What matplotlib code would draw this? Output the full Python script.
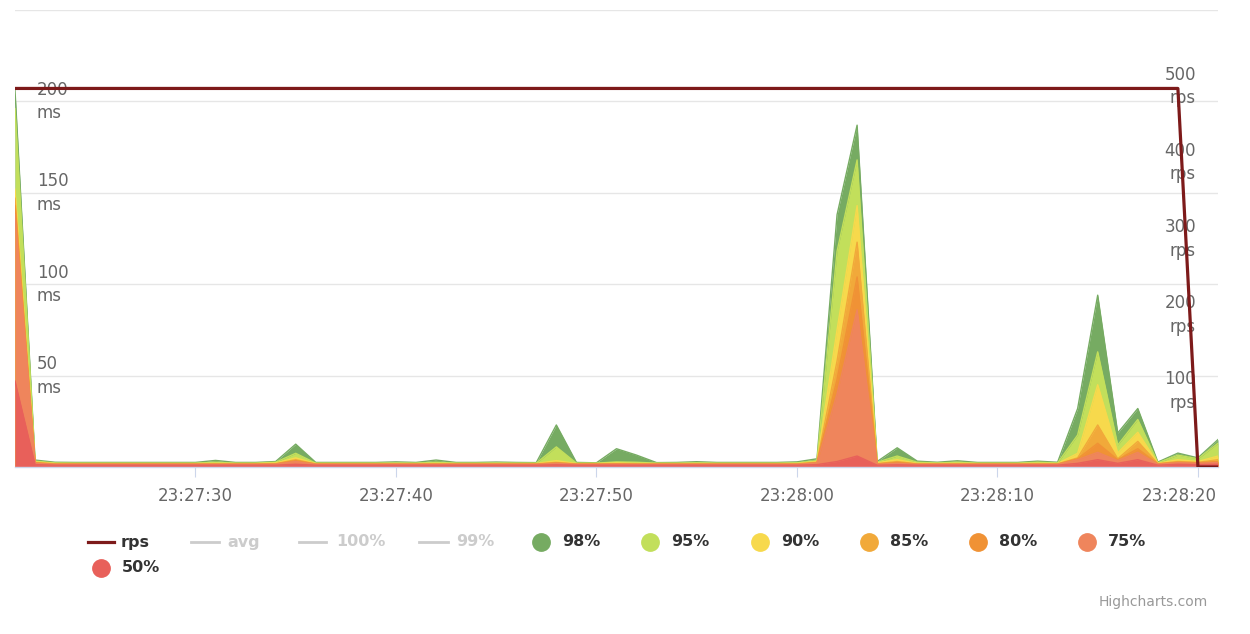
import pandas as pd
import matplotlib
matplotlib.use('Agg')
import matplotlib.pyplot as plt
from matplotlib.lines import Line2D
from matplotlib.transforms import ScaledTranslation

plt.rcParams['font.family'] = ['DejaVu Sans']

# one sample per second, 23:27:21 .. 23:28:21
times = pd.date_range('2020-01-01 23:27:21', periods=61, freq='s')

# response time percentiles, ms
p98 = [206, 3.8, 2.6, 2.5, 2.5, 2.5, 2.5, 2.5, 2.5, 2.5,
       3.6, 2.5, 2.5, 3.0, 12.5, 2.5, 2.5, 2.5, 2.5, 2.8,
       2.5, 3.8, 2.5, 2.5, 2.7, 2.5, 2.4, 23, 2.5, 2.3,
       10, 6.5, 2.4, 2.5, 2.9, 2.5, 2.5, 2.5, 2.5, 2.8,
       4.5, 138, 187, 3.0, 10.5, 3.2, 2.6, 3.4, 2.5, 2.5,
       2.5, 3.2, 2.6, 32, 94, 18.6, 32, 2.7, 7.6, 5.0,
       15]
p95 = [196, 3.2, 2.2, 2.1, 2.1, 2.1, 2.1, 2.1, 2.1, 2.1,
       2.6, 2.1, 2.1, 2.6, 7.5, 2.1, 2.1, 2.1, 2.1, 2.2,
       2.1, 2.6, 2.1, 2.1, 2.2, 2.1, 2.1, 11, 2.1, 2.1,
       2.8, 2.6, 2.1, 2.1, 2.3, 2.1, 2.1, 2.1, 2.1, 2.3,
       3.5, 118, 168, 2.6, 6.0, 2.6, 2.2, 2.6, 2.1, 2.1,
       2.1, 2.6, 2.2, 17.5, 63, 12, 26, 2.3, 6.5, 4.5,
       13]
p90 = [152, 2.8, 1.9, 1.9, 1.9, 1.9, 1.9, 1.9, 1.9, 1.9,
       2.0, 1.9, 1.9, 2.2, 5.0, 1.9, 1.9, 1.9, 1.9, 1.9,
       1.9, 2.0, 1.9, 1.9, 1.9, 1.9, 1.9, 3.5, 1.9, 1.9,
       2.3, 2.0, 1.9, 1.9, 1.9, 1.9, 1.9, 1.9, 1.9, 1.9,
       3.0, 75, 143, 2.3, 4.0, 2.0, 1.9, 2.0, 1.9, 1.9,
       1.9, 2.0, 1.9, 7.5, 45, 7.7, 19, 2.0, 4.0, 3.0,
       6.0]
p85 = [147, 2.5, 1.7, 1.7, 1.7, 1.7, 1.7, 1.7, 1.7, 1.7,
       1.7, 1.7, 1.7, 1.8, 4.0, 1.7, 1.7, 1.7, 1.7, 1.7,
       1.7, 1.7, 1.7, 1.7, 1.7, 1.7, 1.7, 2.5, 1.7, 1.7,
       1.8, 1.7, 1.7, 1.7, 1.7, 1.7, 1.7, 1.7, 1.7, 1.7,
       2.6, 58, 123, 1.8, 3.0, 1.7, 1.7, 1.7, 1.7, 1.7,
       1.7, 1.7, 1.7, 5.0, 23, 4.5, 14, 1.8, 3.0, 2.5,
       4.0]
p80 = [143, 2.3, 1.6, 1.6, 1.6, 1.6, 1.6, 1.6, 1.6, 1.6,
       1.6, 1.6, 1.6, 1.7, 3.5, 1.6, 1.6, 1.6, 1.6, 1.6,
       1.6, 1.6, 1.6, 1.6, 1.6, 1.6, 1.6, 2.2, 1.6, 1.6,
       1.7, 1.6, 1.6, 1.6, 1.6, 1.6, 1.6, 1.6, 1.6, 1.6,
       2.4, 48, 104, 1.7, 2.5, 1.6, 1.6, 1.6, 1.6, 1.6,
       1.6, 1.6, 1.6, 4.5, 13, 4.0, 10, 1.7, 2.6, 2.3,
       3.0]
p75 = [138, 2.0, 1.4, 1.4, 1.4, 1.4, 1.4, 1.4, 1.4, 1.4,
       1.4, 1.4, 1.4, 1.5, 3.0, 1.4, 1.4, 1.4, 1.4, 1.4,
       1.4, 1.4, 1.4, 1.4, 1.4, 1.4, 1.4, 2.0, 1.4, 1.4,
       1.5, 1.4, 1.4, 1.4, 1.4, 1.4, 1.4, 1.4, 1.4, 1.4,
       2.2, 40, 86, 1.5, 2.0, 1.4, 1.4, 1.4, 1.4, 1.4,
       1.4, 1.4, 1.4, 4.0, 8.0, 3.5, 8.0, 1.5, 2.3, 2.0,
       2.5]
p50 = [47, 1.3, 1.0, 1.0, 1.0, 1.0, 1.0, 1.0, 1.0, 1.0,
       1.0, 1.0, 1.0, 1.0, 1.5, 1.0, 1.0, 1.0, 1.0, 1.0,
       1.0, 1.0, 1.0, 1.0, 1.0, 1.0, 1.0, 1.2, 1.0, 1.0,
       1.0, 1.0, 1.0, 1.0, 1.0, 1.0, 1.0, 1.0, 1.0, 1.0,
       1.3, 3.0, 6.0, 1.0, 1.2, 1.0, 1.0, 1.0, 1.0, 1.0,
       1.0, 1.0, 1.0, 2.0, 4.0, 2.0, 4.0, 1.0, 1.5, 1.3,
       1.5]

# requests per second
rps = [497, 497, 497, 497, 497, 497, 497, 497, 497, 497,
       497, 497, 497, 497, 497, 497, 497, 497, 497, 497,
       497, 497, 497, 497, 497, 497, 497, 497, 497, 497,
       497, 497, 497, 497, 497, 497, 497, 497, 497, 497,
       497, 497, 497, 497, 497, 497, 497, 497, 497, 497,
       497, 497, 497, 497, 497, 497, 497, 497, 497, 0,
       0]

area_names = ['98%', '95%', '90%', '85%', '80%', '75%', '50%']
area_values = [p98, p95, p90, p85, p80, p75, p50]
area_colors = ['#76ab62', '#c2df5b', '#f7d94c', '#f1a93a', '#f09235', '#ef855c', '#e8605a']
hidden_names = ['avg', '100%', '99%']
rps_color = '#7d1a1a'

ms_ticks = [0, 50, 100, 150, 200, 250]
rps_ticks = [0, 100, 200, 300, 400, 500, 600]

W, H = 1250, 634


def fx(px):
    return px / W


def fy(py):
    return 1 - py / H


fig = plt.figure(figsize=(W / 100, H / 100), dpi=100)
ax = fig.add_axes([fx(15), fy(467), 1203 / W, 457 / H])
label_shift = ScaledTranslation(0, 0.045, fig.dpi_scale_trans)

# percentile areas, widest drawn first
for i, (vals, col) in enumerate(zip(area_values, area_colors)):
    ax.fill_between(times, 0, vals, color=col, lw=0, zorder=1 + i * 0.1)
    ax.plot(times, vals, color=col, lw=1, zorder=1.05 + i * 0.1)

ax.set_xlim(times[0], times[-1])
ax.set_ylim(0, 250)
ax.set_yticks(ms_ticks)
ax.set_yticklabels([''] + [f'{v}\nms' for v in ms_ticks[1:-1]] + [''])
ax.yaxis.grid(True, color='#e6e6e6', lw=1)
ax.set_axisbelow(True)
ax.tick_params(axis='y', length=0, pad=-15.8, labelsize=12, labelcolor='#666666')
for lbl in ax.get_yticklabels():
    lbl.set_horizontalalignment('left')
    lbl.set_linespacing(1.4)
    lbl.set_transform(lbl.get_transform() + label_shift)

tick_times = [t for t in times if t.second % 10 == 0]
ax.set_xticks(tick_times)
ax.set_xticklabels([t.strftime('%H:%M:%S') for t in tick_times])
ax.tick_params(axis='x', length=7.2, width=0.8, color='#ccd6eb', pad=7,
               labelsize=12, labelcolor='#666666')
last = ax.get_xticklabels()[-1]
last.set_horizontalalignment('right')
last.set_transform(last.get_transform() + ScaledTranslation(0.19, 0, fig.dpi_scale_trans))

for side in ['top', 'left', 'right']:
    ax.spines[side].set_visible(False)
ax.spines['bottom'].set_color('#ccd6eb')
ax.spines['bottom'].set_linewidth(1)

# rps on the right axis
ax2 = ax.twinx()
ax2.plot(times, rps, color=rps_color, lw=2.3)
ax2.set_ylim(0, 600)
ax2.set_yticks(rps_ticks)
ax2.set_yticklabels([''] + [f'{v}\nrps' for v in rps_ticks[1:-1]] + [''])
ax2.tick_params(axis='y', length=0, pad=-15.8, labelsize=12, labelcolor='#666666')
for lbl in ax2.get_yticklabels():
    lbl.set_horizontalalignment('right')
    lbl.set_linespacing(1.4)
    lbl.set_transform(lbl.get_transform() + label_shift)
for side in ['top', 'left', 'right', 'bottom']:
    ax2.spines[side].set_visible(False)

# legend, laid out like the highcharts one
leg_font = dict(fontsize=11.5, fontweight='bold', va='center')
row1, row2 = 542, 568

fig.add_artist(Line2D([fx(88), fx(114)], [fy(row1)] * 2, transform=fig.transFigure,
                      color=rps_color, lw=2.3))
fig.text(fx(121), fy(row1), 'rps', color='#333333', **leg_font)

hidden_pos = [(191, 219, 227), (299, 326, 336), (419, 448, 456)]
for name, (x0, x1, tx) in zip(hidden_names, hidden_pos):
    fig.add_artist(Line2D([fx(x0), fx(x1)], [fy(row1)] * 2, transform=fig.transFigure,
                          color='#cccccc', lw=2))
    fig.text(fx(tx), fy(row1), name, color='#cccccc', **leg_font)

circle_pos = [(541, row1), (650, row1), (760, row1), (869, row1),
              (978, row1), (1087, row1), (101, row2)]
for name, col, (cx, cy) in zip(area_names, area_colors, circle_pos):
    fig.add_artist(Line2D([fx(cx)], [fy(cy)], transform=fig.transFigure, marker='o',
                          ms=12.5, color=col, lw=0))
    fig.text(fx(cx + 21), fy(cy), name, color='#333333', **leg_font)

fig.text(fx(1208), fy(602), 'Highcharts.com', color='#999999', fontsize=10,
         ha='right', va='center')

fig.savefig('out.png', dpi=100, facecolor='white')
